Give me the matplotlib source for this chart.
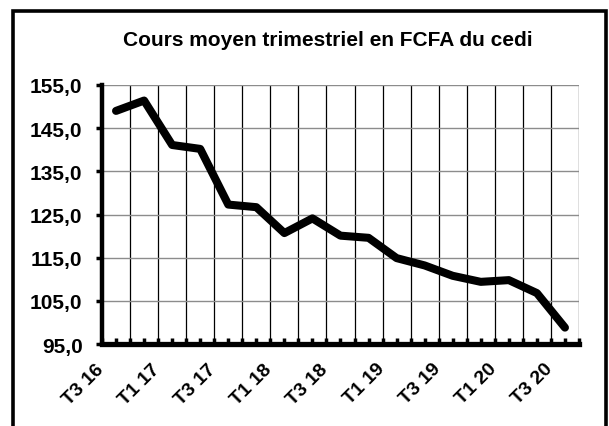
import matplotlib
matplotlib.use("Agg")
import matplotlib.pyplot as plt
import matplotlib.transforms as mtransforms
from matplotlib.patches import Rectangle

plt.rcParams['font.family'] = ['Liberation Sans', 'DejaVu Sans']

# --- Data ---
quarters = ["T3 16", "T4 16", "T1 17", "T2 17", "T3 17", "T4 17", "T1 18", "T2 18",
            "T3 18", "T4 18", "T1 19", "T2 19", "T3 19", "T4 19", "T1 20", "T2 20", "T3 20"]
cours = [149.0, 151.4, 141.1, 140.2, 127.3, 126.7, 120.7, 124.1,
         120.1, 119.6, 114.9, 113.2, 110.8, 109.4, 109.8, 106.8, 98.8]
y_ticks = [95, 105, 115, 125, 135, 145, 155]

fig = plt.figure(figsize=(6.09, 4.27), dpi=100)
ax = fig.add_axes([0.1675, 0.192, 0.7832, 0.6066])

x = list(range(len(quarters)))
ax.plot(x, cours, color="black", lw=5.8, solid_capstyle="round",
        solid_joinstyle="round", zorder=5)

# axes limits and ticks
ax.set_xlim(-0.5, len(quarters) - 0.5)
ax.set_ylim(95, 155)
ax.set_yticks(y_ticks)
ax.set_yticklabels([f"{v:.1f}".replace(".", ",") for v in y_ticks],
                   fontsize=15, fontweight="bold")

ax.set_xticks(x)
ax.set_xticklabels([])
ax.set_xticks([i - 0.5 for i in range(len(quarters) + 1)], minor=True)

# rotated category labels, every other quarter
lab_tr = ax.get_xaxis_transform() + mtransforms.ScaledTranslation(
    -15 / 100, -22 / 100, fig.dpi_scale_trans)
for i, q in enumerate(quarters):
    if i % 2 == 0:
        ax.text(i, 0, q, transform=lab_tr, fontsize=14, fontweight="bold",
                rotation=45, ha="right", va="center", rotation_mode="anchor")

# grid
ax.grid(axis="y", which="major", color="#8c8c8c", lw=1.0)
ax.grid(axis="x", which="minor", color="black", lw=0.9)
ax.grid(axis="x", which="major", visible=False)
ax.set_axisbelow(True)

for s in ["top", "right"]:
    ax.spines[s].set_visible(False)
ax.spines["left"].set_linewidth(3.2)
ax.spines["bottom"].set_linewidth(3.8)

ax.tick_params(axis="y", direction="out", length=4, width=2.5, pad=10)
ax.tick_params(axis="x", which="both", direction="in", length=4, width=2.5, pad=0)

# title
fig.text(0.539, 1 - 40 / 427, "Cours moyen trimestriel en FCFA du cedi",
         ha="center", va="center", fontsize=15, fontweight="bold")

# outer frame
fig.patches.append(Rectangle((13 / 609, -0.05), (606 - 13) / 609, 1.05 - 12 / 427,
                             transform=fig.transFigure, fill=False,
                             edgecolor="black", lw=2.6))

fig.savefig("out.png", dpi=100, facecolor="white")
